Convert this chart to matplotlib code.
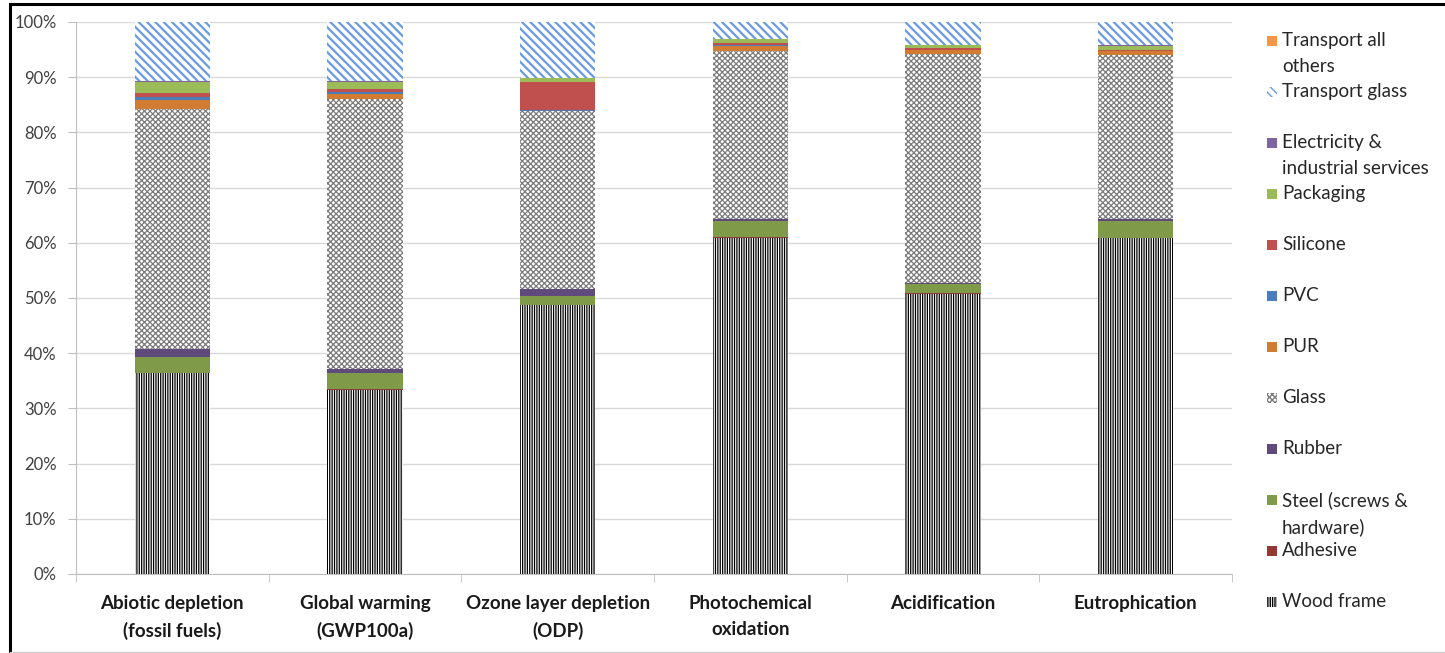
import matplotlib
matplotlib.use("Agg")
import matplotlib.pyplot as plt
from matplotlib.patches import Rectangle
from matplotlib.lines import Line2D

plt.rcParams['font.family'] = ['Lato', 'DejaVu Sans']

categories = ["Abiotic depletion\n(fossil fuels)", "Global warming\n(GWP100a)",
              "Ozone layer depletion\n(ODP)", "Photochemical\noxidation",
              "Acidification", "Eutrophication"]

# stack order, bottom to top (percent of total)
wood_frame = [36.4, 33.4, 48.7, 60.9, 50.8, 60.8]
adhesive = [0.1, 0.1, 0.1, 0.1, 0.1, 0.1]
steel = [2.9, 3.0, 1.6, 3.0, 1.6, 3.1]
rubber = [1.3, 0.6, 1.2, 0.3, 0.3, 0.3]
glass = [43.6, 48.9, 32.2, 30.5, 41.4, 29.7]
pur = [1.5, 1.0, 0.1, 0.9, 0.7, 0.7]
pvc = [0.6, 0.4, 0.1, 0.1, 0.1, 0.1]
silicone = [0.7, 0.4, 5.2, 0.4, 0.2, 0.2]
packaging = [2.1, 1.4, 0.6, 0.7, 0.6, 0.7]
electricity = [0.1, 0.2, 0.1, 0.1, 0.1, 0.1]
transport_glass = [10.7, 10.6, 10.1, 3.0, 4.1, 4.2]
transport_others = [0.0, 0.0, 0.0, 0.0, 0.0, 0.0]

series = [
    ("Wood frame", wood_frame, "white", "black", "|||||||"),
    ("Adhesive", adhesive, "#953735", "#953735", None),
    ("Steel (screws &\nhardware)", steel, "#7f9a48", "#7f9a48", None),
    ("Rubber", rubber, "#604a7b", "#604a7b", None),
    ("Glass", glass, "white", "#7a7a7a", "xxxxxx"),
    ("PUR", pur, "#d27b32", "#d27b32", None),
    ("PVC", pvc, "#4a7ebb", "#4a7ebb", None),
    ("Silicone", silicone, "#c0504d", "#c0504d", None),
    ("Packaging", packaging, "#9bbb59", "#9bbb59", None),
    ("Electricity &\nindustrial services", electricity, "#8064a2", "#8064a2", None),
    ("Transport glass", transport_glass, "white", "#6a9be0", "\\\\\\\\"),
    ("Transport all\nothers", transport_others, "#f79646", "#f79646", None),
]

W, H = 1445, 653
fig = plt.figure(figsize=(W / 100, H / 100), dpi=100)
ax = fig.add_axes([76 / W, 1 - 574 / H, (1232 - 76) / W, (574 - 22) / H])

x = list(range(len(categories)))
bottom = [0.0] * len(categories)
for name, vals, fc, ec, hatch in series:
    bars = ax.bar(x, vals, 0.39, bottom=bottom, color=fc, edgecolor=ec,
                  linewidth=0, hatch=hatch, zorder=3)
    if hatch:
        for p in bars:
            if hasattr(p, 'set_hatch_linewidth'):
                p.set_hatch_linewidth(1.6 if hatch.startswith("\\") else 0.9)
    bottom = [b + v for b, v in zip(bottom, vals)]

ax.set_xlim(-0.5, 5.5)
ax.set_ylim(0, 100)
ax.set_yticks(range(0, 101, 10))
ax.set_yticklabels([f"{v}%" for v in range(0, 101, 10)], fontsize=12, color="#404040")
ax.set_xticks(x)
ax.set_xticklabels(categories, fontsize=13.5, fontweight="bold", linespacing=1.65,
                   color="#1a1a1a")
ax.set_xticks([i - 0.5 for i in range(len(categories) + 1)], minor=True)
ax.tick_params(axis='x', which='major', length=0, pad=15)
ax.tick_params(axis='x', which='minor', length=6, color="#bfbfbf", direction='out')
ax.tick_params(axis='y', length=6, color="#bfbfbf", pad=8)
ax.grid(axis='y', color="#d9d9d9", linewidth=1, zorder=0)
for s in ["top", "right"]:
    ax.spines[s].set_visible(False)
for s in ["left", "bottom"]:
    ax.spines[s].set_color("#bfbfbf")

# legend, drawn entry by entry (top entry = last series)
for i, (name, vals, fc, ec, hatch) in enumerate(reversed(series)):
    yc = 1 - (41 + 51 * i) / H
    sq = Rectangle((1267 / W, yc - 5 / H), 10 / W, 10 / H, transform=fig.transFigure,
                   facecolor=fc, edgecolor=ec, linewidth=0, hatch=hatch)
    if hatch and hasattr(sq, 'set_hatch_linewidth'):
        sq.set_hatch_linewidth(1.0)
    fig.add_artist(sq)
    fig.text(1282 / W, yc + 9 / H, name, fontsize=13.5, color="#262626",
             va='top', ha='left', linespacing=1.62)

# outer frame
fig.add_artist(Line2D([10 / W, 1], [1 - 4 / H, 1 - 4 / H], color="black", linewidth=2.2,
                      transform=fig.transFigure))
fig.add_artist(Line2D([10 / W, 10 / W], [0, 1 - 4 / H], color="black", linewidth=2.2,
                      transform=fig.transFigure))
fig.add_artist(Line2D([10 / W, 1], [1 / H, 1 / H], color="#d0d0d0", linewidth=1,
                      transform=fig.transFigure))

fig.savefig("out.png", dpi=100)
